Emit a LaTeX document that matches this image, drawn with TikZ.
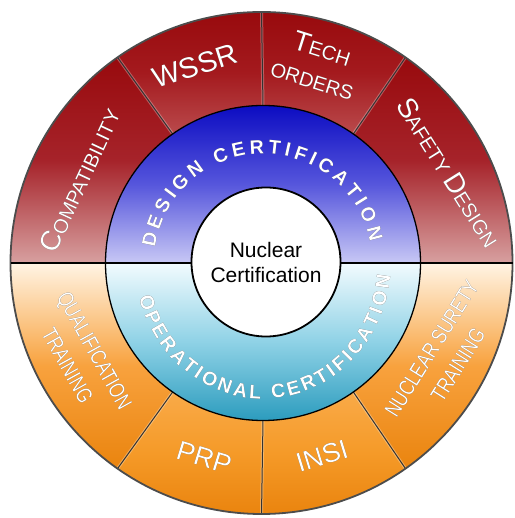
\documentclass[tikz,border=0pt]{standalone}
\usepackage{fontspec}
\setmainfont{Liberation Sans}
\newfontfamily\narrowfont[FakeStretch=0.78]{Liberation Sans}
\usetikzlibrary{calc,decorations.text}
\definecolor{redDark}{HTML}{980A0D}
\definecolor{redMid}{HTML}{A6232A}
\definecolor{redMidB}{HTML}{A41A1E}
\definecolor{redLight}{HTML}{D7A0A0}
\definecolor{redLow}{HTML}{BA4A4C}
\definecolor{orCream}{HTML}{FFF4E4}
\definecolor{orMid}{HTML}{F8A23E}
\definecolor{orMidB}{HTML}{F59A28}
\definecolor{orDark}{HTML}{EA840E}
\definecolor{orTop}{HTML}{F9AA48}
\definecolor{blTop}{HTML}{0C0CC2}
\definecolor{blMid}{HTML}{5656DC}
\definecolor{blLow}{HTML}{C8C8F5}
\definecolor{tlTop}{HTML}{F2FBFE}
\definecolor{tlMid}{HTML}{8FD2E6}
\definecolor{tlLow}{HTML}{2C9CBE}
\newcommand{\Ro}{251pt}
\newcommand{\Rb}{157.5pt}
\newcommand{\segment}[3]{%
  \shade[#3] ($(O1)+(#1:\Ro)$) arc[start angle=#1, end angle=#2, radius=\Ro]
    -- ($(O2)+(#2:\Rb)$) arc[start angle=#2, end angle=#1, radius=\Rb] -- cycle;}
\newcommand{\bigc}[1]{{\fontsize{28}{28}\selectfont #1}}
\newcommand{\smc}[1]{{\fontsize{20}{20}\selectfont #1}}
\newcommand{\txtcol}{white}
\newcommand{\seglabel}[6]{%
  \node[seglbl, #5, text=\txtcol, rotate=#4] (#1) at ($(O1)+(#2:#3)$) {#6};}
\newcommand{\ringfont}{\fontsize{19.5}{19.5}\selectfont\bfseries}
\tikzset{seglbl/.style={align=center, inner sep=0pt}}
\newcommand{\alllabels}[1]{%
\seglabel{compat#1}{155.5}{200pt}{65}{font=\fontsize{20}{30}\selectfont}{\bigc{C}\smc{OMPATIBILITY}}
\seglabel{wssr#1}{108.6}{208pt}{17.5}{font=\fontsize{29}{30}\selectfont}{WSSR}
\seglabel{tech#1}{74.3}{207pt}{-17.5}{font=\fontsize{20}{32}\selectfont}{\bigc{T}\smc{ECH}\\\smc{ORDERS}}
\seglabel{safety#1}{25.8}{208pt}{-58}{font=\fontsize{20}{30}\selectfont}{\bigc{S}\smc{AFETY} \bigc{D}\smc{ESIGN}}
\seglabel{qual#1}{207.8}{204pt}{-61}{font=\narrowfont\fontsize{22}{31}\selectfont}{QUALIFICATION\\TRAINING}
\seglabel{prp#1}{253.6}{203pt}{-17}{font=\fontsize{27}{30}\selectfont}{PRP}
\seglabel{insi#1}{287.4}{202pt}{17}{font=\fontsize{27}{30}\selectfont}{INSI}
\seglabel{nuc#1}{332.9}{206pt}{58}{font=\narrowfont\fontsize{22}{31}\selectfont}{NUCLEAR SURETY\\TRAINING}
\path[decorate, decoration={text along path, text={|\ringfont\color{\txtcol}|DESIGN CERTIFICATION}, text align={fit to path}}]
  ($(O2)+(172:109pt)$) arc[start angle=172, end angle=11, radius=109pt];
\path[decorate, decoration={text along path, text={|\ringfont\color{\txtcol}|OPERATIONAL CERTIFICATION}, text align={fit to path}}]
  ($(O2)+(194.5:128pt and 136pt)$) arc[start angle=194.5, end angle=354.5, x radius=128pt, y radius=136pt];
}
\begin{document}
\begin{tikzpicture}
\useasboundingbox (0pt,0pt) rectangle (514pt,518pt);
\coordinate (O1) at (261.5pt,255pt);
\coordinate (O2) at (263pt,255pt);
\coordinate (O3) at (266pt,256pt);
% outer segments
\segment{0}{55}{top color=redDark, bottom color=redLight, middle color=redMid}
\segment{55}{90}{top color=redDark, bottom color=redLow, middle color=redMidB}
\segment{90}{125}{top color=redDark, bottom color=redLow, middle color=redMidB}
\segment{125}{180}{top color=redDark, bottom color=redLight, middle color=redMid}
\segment{180}{235}{top color=orCream, bottom color=orDark, middle color=orMid}
\segment{235}{270}{top color=orTop, bottom color=orDark, middle color=orMidB}
\segment{270}{305}{top color=orTop, bottom color=orDark, middle color=orMidB}
\segment{305}{360}{top color=orCream, bottom color=orDark, middle color=orMid}
% dividers
\foreach \a in {55,90,125,235,270,305}{
  \draw[line width=3pt, white, opacity=.3] ($(O2)+(\a:\Rb)$) -- ($(O1)+(\a:\Ro)$);
  \draw[line width=1pt, black!80] ($(O2)+(\a:\Rb)$) -- ($(O1)+(\a:\Ro)$);
}
\draw[line width=1.8pt, black!70] (O1) circle[radius=\Ro];
% inner rings
\shade[top color=blTop, bottom color=blLow, middle color=blMid]
  ($(O2)+(0:\Rb)$) arc[start angle=0, end angle=180, radius=\Rb] -- cycle;
\shade[top color=tlTop, bottom color=tlLow, middle color=tlMid]
  ($(O2)+(180:\Rb)$) arc[start angle=180, end angle=360, radius=\Rb] -- cycle;
\draw[line width=1.3pt] (O2) circle[radius=\Rb];
\coordinate (hl) at ($(O1)+(180:\Ro)$);
\coordinate (hr) at ($(O1)+(0:\Ro)$);
\draw[line width=2.5pt] (hl) -- (hr);
\draw[fill=white, line width=1.8pt] (O3) circle[radius=74.5pt];
\node[align=center, font=\fontsize{21}{25}\selectfont] (nc) at (O3) {Nuclear\\Certification};
% text shadows
\begin{scope}[shift={(1.8pt,-1.8pt)}, opacity=.7]
\renewcommand{\txtcol}{black}
\alllabels{s}
\end{scope}
% labels
\alllabels{}
\end{tikzpicture}
\end{document}
